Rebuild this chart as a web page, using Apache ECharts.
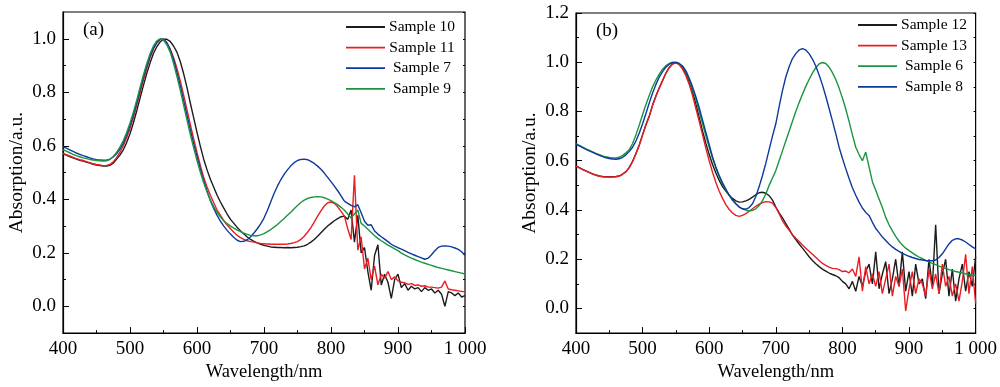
<!DOCTYPE html>
<html><head><meta charset="utf-8">
<script src="https://cdn.jsdelivr.net/npm/echarts@6/dist/echarts.min.js"></script>
<style>html,body{margin:0;padding:0;background:#fff}#c{width:1000px;height:387px}</style>
</head><body><div id="c"></div>
<script>
const wavelength = [400,405,410,415,420,425,430,435,440,445,450,455,460,465,470,475,480,485,490,495,500,505,510,515,520,525,530,535,540,545,550,555,560,565,570,575,580,585,590,595,600,605,610,615,620,625,630,635,640,645,650,655,660,665,670,675,680,685,690,695,700,705,710,715,720,725,730,735,740,745,750,755,760,765,770,775,780,785,790,795,800,805,810,815,820,825,830,835,840,845,850,855,860,865,870,875,880,885,890,895,900,905,910,915,920,925,930,935,940,945,950,955,960,965,970,975,980,985,990,995,1000];

const xTicks = [400,500,600,700,800,900,1000];
const yTicksA = [0.0,0.2,0.4,0.6,0.8,1.0];
const yTicksB = [0.0,0.2,0.4,0.6,0.8,1.0,1.2];
const yMinorA = [0.1,0.3,0.5,0.7,0.9];
const yMinorB = [0.1,0.3,0.5,0.7,0.9,1.1];

// Panel (a)
const sample10 = [
0.570,0.565,0.560,0.555,0.550,0.546,0.543,0.539,0.535,0.531,
0.528,0.526,0.524,0.524,0.527,0.535,0.550,0.565,0.585,0.612,
0.645,0.685,0.730,0.778,0.825,0.870,0.910,0.945,0.970,0.988,
0.998,0.998,0.990,0.973,0.950,0.915,0.870,0.818,0.760,0.705,
0.650,0.598,0.550,0.510,0.475,0.445,0.415,0.390,0.367,0.345,
0.325,0.310,0.295,0.282,0.270,0.259,0.250,0.243,0.237,0.232,
0.228,0.225,0.222,0.221,0.220,0.220,0.219,0.220,0.219,0.220,
0.221,0.223,0.226,0.232,0.240,0.250,0.262,0.275,0.288,0.300,
0.310,0.320,0.328,0.335,0.337,0.325,0.360,0.240,0.340,0.200,
0.220,0.130,0.060,0.190,0.230,0.080,0.120,0.090,0.030,0.100,
0.120,0.070,0.085,0.060,0.075,0.065,0.070,0.055,0.070,0.060,
0.065,0.050,0.060,0.045,0.000,0.055,0.050,0.040,0.050,0.035,
0.040];
const sample11 = [
0.572,0.567,0.562,0.557,0.552,0.548,0.545,0.541,0.537,0.533,
0.530,0.528,0.526,0.527,0.530,0.540,0.556,0.575,0.600,0.630,
0.665,0.705,0.750,0.797,0.845,0.890,0.930,0.962,0.985,0.998,
0.998,0.985,0.962,0.930,0.890,0.842,0.790,0.735,0.680,0.627,
0.575,0.527,0.482,0.446,0.415,0.387,0.360,0.340,0.320,0.304,
0.290,0.277,0.265,0.257,0.250,0.245,0.242,0.240,0.237,0.235,
0.234,0.233,0.232,0.232,0.232,0.232,0.232,0.233,0.235,0.238,
0.242,0.250,0.262,0.277,0.294,0.315,0.337,0.357,0.375,0.387,
0.390,0.385,0.372,0.355,0.337,0.290,0.250,0.490,0.210,0.260,
0.140,0.180,0.100,0.150,0.080,0.120,0.105,0.130,0.100,0.110,
0.095,0.090,0.088,0.082,0.085,0.078,0.080,0.075,0.077,0.072,
0.072,0.070,0.068,0.072,0.095,0.065,0.062,0.060,0.058,0.056,
0.054];
const sample7 = [
0.597,0.591,0.585,0.579,0.573,0.568,0.563,0.559,0.555,0.551,
0.548,0.547,0.546,0.546,0.550,0.558,0.570,0.587,0.610,0.640,
0.675,0.715,0.760,0.808,0.855,0.897,0.935,0.965,0.985,0.997,
0.998,0.985,0.960,0.922,0.875,0.825,0.770,0.715,0.660,0.608,
0.560,0.513,0.470,0.431,0.395,0.366,0.340,0.318,0.300,0.284,
0.270,0.257,0.247,0.242,0.243,0.249,0.260,0.274,0.290,0.308,
0.330,0.358,0.390,0.422,0.449,0.473,0.493,0.510,0.525,0.537,
0.545,0.549,0.550,0.548,0.542,0.534,0.524,0.512,0.498,0.482,
0.466,0.449,0.432,0.413,0.393,0.385,0.377,0.372,0.380,0.350,
0.318,0.303,0.305,0.282,0.270,0.260,0.251,0.242,0.232,0.225,
0.219,0.214,0.208,0.202,0.196,0.191,0.186,0.181,0.176,0.180,
0.193,0.208,0.220,0.225,0.226,0.225,0.222,0.218,0.213,0.204,
0.190];
const sample9 = [
0.586,0.580,0.574,0.568,0.563,0.559,0.555,0.552,0.549,0.547,
0.545,0.544,0.543,0.544,0.549,0.560,0.575,0.595,0.620,0.650,
0.685,0.725,0.770,0.818,0.865,0.907,0.945,0.973,0.992,1.000,
0.995,0.977,0.950,0.908,0.860,0.808,0.752,0.697,0.643,0.592,
0.545,0.501,0.462,0.427,0.397,0.372,0.351,0.334,0.320,0.309,
0.300,0.292,0.285,0.279,0.273,0.269,0.265,0.264,0.264,0.267,
0.272,0.279,0.287,0.296,0.306,0.317,0.328,0.340,0.352,0.365,
0.377,0.388,0.397,0.403,0.407,0.409,0.410,0.409,0.406,0.401,
0.395,0.388,0.380,0.370,0.359,0.345,0.330,0.345,0.360,0.310,
0.300,0.288,0.276,0.264,0.254,0.245,0.237,0.229,0.222,0.215,
0.208,0.199,0.192,0.186,0.180,0.175,0.170,0.165,0.161,0.157,
0.153,0.149,0.145,0.142,0.139,0.136,0.133,0.130,0.127,0.124,
0.121];

// Panel (b)
const sample12 = [
0.579,0.572,0.565,0.559,0.553,0.547,0.542,0.538,0.536,0.535,
0.535,0.535,0.536,0.538,0.546,0.556,0.573,0.598,0.629,0.664,
0.706,0.746,0.782,0.826,0.863,0.896,0.926,0.956,0.979,0.994,
0.998,0.992,0.977,0.952,0.920,0.880,0.830,0.775,0.720,0.670,
0.625,0.585,0.550,0.520,0.495,0.477,0.460,0.447,0.437,0.432,
0.433,0.437,0.443,0.452,0.462,0.470,0.472,0.468,0.458,0.440,
0.412,0.388,0.368,0.345,0.322,0.298,0.280,0.262,0.245,0.228,
0.210,0.195,0.182,0.170,0.160,0.152,0.144,0.138,0.133,0.125,
0.110,0.100,0.080,0.110,0.070,0.130,0.090,0.150,0.180,0.100,
0.230,0.080,0.140,0.190,0.060,0.120,0.200,0.090,0.230,0.070,
0.150,0.050,0.180,0.100,0.120,0.040,0.200,0.090,0.340,0.060,
0.140,0.200,0.050,0.160,0.030,0.120,0.180,0.070,0.150,0.090,
0.210];
const sample13 = [
0.578,0.571,0.564,0.558,0.552,0.546,0.541,0.537,0.535,0.534,
0.534,0.534,0.535,0.537,0.545,0.555,0.572,0.597,0.628,0.663,
0.705,0.745,0.780,0.825,0.862,0.895,0.925,0.955,0.978,0.993,
0.998,0.990,0.972,0.945,0.910,0.865,0.812,0.760,0.705,0.650,
0.600,0.553,0.512,0.476,0.447,0.422,0.402,0.388,0.378,0.374,
0.378,0.385,0.395,0.405,0.415,0.424,0.430,0.434,0.433,0.428,
0.410,0.385,0.356,0.335,0.318,0.300,0.285,0.272,0.258,0.245,
0.232,0.220,0.208,0.195,0.183,0.175,0.168,0.163,0.162,0.158,
0.150,0.152,0.145,0.160,0.130,0.210,0.070,0.170,0.100,0.140,
0.090,0.150,0.060,0.120,0.180,0.050,0.130,0.090,0.160,-0.010,
0.080,0.150,0.060,0.120,0.100,0.050,0.160,0.080,0.140,0.060,
0.180,0.090,0.130,0.050,0.100,0.030,0.110,0.220,0.060,0.170,
0.020];
const sample6 = [
0.668,0.662,0.655,0.648,0.642,0.636,0.630,0.625,0.620,0.616,
0.613,0.611,0.611,0.614,0.622,0.632,0.645,0.670,0.705,0.745,
0.788,0.828,0.865,0.900,0.928,0.952,0.972,0.986,0.995,1.000,
0.998,0.994,0.983,0.962,0.930,0.890,0.850,0.800,0.750,0.700,
0.655,0.610,0.570,0.535,0.505,0.480,0.460,0.440,0.425,0.413,
0.405,0.399,0.397,0.398,0.405,0.418,0.438,0.465,0.500,0.530,
0.560,0.600,0.640,0.680,0.720,0.760,0.800,0.836,0.870,0.902,
0.930,0.956,0.978,0.993,0.999,0.995,0.980,0.958,0.930,0.895,
0.855,0.810,0.760,0.705,0.655,0.625,0.600,0.635,0.575,0.515,
0.480,0.445,0.410,0.370,0.340,0.315,0.293,0.273,0.258,0.245,
0.235,0.226,0.217,0.209,0.202,0.195,0.189,0.183,0.178,0.172,
0.167,0.163,0.158,0.154,0.150,0.147,0.144,0.141,0.138,0.136,
0.134];
const sample8 = [
0.666,0.660,0.653,0.646,0.640,0.634,0.628,0.622,0.617,0.612,
0.609,0.607,0.606,0.608,0.614,0.624,0.638,0.655,0.680,0.713,
0.750,0.792,0.835,0.875,0.910,0.940,0.962,0.980,0.992,0.998,
1.000,0.995,0.985,0.965,0.935,0.900,0.860,0.815,0.765,0.715,
0.665,0.615,0.575,0.540,0.510,0.485,0.460,0.440,0.425,0.412,
0.405,0.403,0.410,0.425,0.455,0.495,0.540,0.590,0.645,0.700,
0.750,0.820,0.885,0.940,0.982,1.015,1.035,1.050,1.055,1.050,
1.035,1.013,0.985,0.948,0.908,0.862,0.812,0.762,0.710,0.655,
0.610,0.568,0.528,0.490,0.460,0.432,0.408,0.390,0.378,0.350,
0.325,0.308,0.290,0.276,0.262,0.250,0.240,0.232,0.224,0.218,
0.212,0.207,0.203,0.199,0.197,0.195,0.194,0.194,0.197,0.207,
0.222,0.242,0.262,0.277,0.283,0.283,0.278,0.270,0.260,0.250,
0.242];

const namesA = ['Sample 10','Sample 11','Sample 7','Sample 9'];
const namesB = ['Sample 12','Sample 13','Sample 6','Sample 8'];
const colors = {black:'#1c1c1c', red:'#ec1c24', blue:'#0c3a9c', green:'#1b9442'};

const FONT = '"Liberation Serif","Times New Roman",serif';

function xAxis(g){
  return {type:'value', gridIndex:g, min:400, max:1000, interval:100,
    axisLine:{show:true, onZero:false, lineStyle:{color:'#000', width:1.2}},
    axisTick:{show:true, inside:true, length:6, lineStyle:{color:'#000', width:1}},
    minorTick:{show:true, splitNumber:2, length:3, lineStyle:{color:'#000', width:1}},
    splitLine:{show:false},
    axisLabel:{color:'#000', fontFamily:FONT, fontSize:19, margin:6,
      formatter: v => v === 1000 ? '1 000' : String(v)},
    name:'Wavelength/nm', nameLocation:'middle', nameGap:27,
    nameTextStyle:{color:'#000', fontFamily:FONT, fontSize:18.5}};
}
function yMain(g, max, ticks){
  return {type:'value', gridIndex:g, min:-0.1, max:max, position:'left',
    axisLine:{show:true, onZero:false, lineStyle:{color:'#000', width:1.2}},
    axisTick:{show:true, inside:true, length:6, customValues:ticks, lineStyle:{color:'#000', width:1}},
    axisLabel:{color:'#000', fontFamily:FONT, fontSize:19, margin:7, customValues:ticks,
      formatter: v => Number(v).toFixed(1)},
    splitLine:{show:false},
    name:'Absorption/a.u.', nameLocation:'middle', nameGap:36, nameRotate:90,
    nameTextStyle:{color:'#000', fontFamily:FONT, fontSize:19.5}};
}
function yMinor(g, max, ticks){
  return {type:'value', gridIndex:g, min:-0.1, max:max, position:'left', offset:0,
    axisLine:{show:false, onZero:false}, axisLabel:{show:false}, splitLine:{show:false},
    axisTick:{show:true, inside:true, length:3, customValues:ticks, lineStyle:{color:'#000', width:1}}};
}
function yRight(g, max, ticks){
  return {type:'value', gridIndex:g, min:-0.1, max:max, position:'right', offset:0,
    axisLine:{show:false, onZero:false}, axisLabel:{show:false}, splitLine:{show:false},
    axisTick:{show:true, inside:true, length:2, customValues:ticks, lineStyle:{color:'#000', width:1}}};
}
function series(name, arr, color, g){
  return {name:name, type:'line', xAxisIndex:g, yAxisIndex:g*3,
    data: wavelength.map((w,i) => [w, arr[i]]),
    symbol:'none', showSymbol:false, lineStyle:{color:color, width:1.4}, itemStyle:{color:color},
    emphasis:{disabled:true}};
}
function legend(names, left, top){
  return {data:names.map(n => ({name:n, icon:'rect'})), orient:'vertical', left:left, top:top,
    itemWidth:39, itemHeight:1.8, itemGap:4.6,
    padding:0, selectedMode:false,
    formatter: n => '{c|' + n + '}',
    textStyle:{color:'#000', fontFamily:FONT, fontSize:15.5, lineHeight:16,
      rich:{c:{width:64, align:'center', color:'#000', fontFamily:FONT, fontSize:15.5, lineHeight:16}}}};
}

const allA = [-0.1,0,0.1,0.2,0.3,0.4,0.5,0.6,0.7,0.8,0.9,1.0,1.1];
const allB = [-0.1,0,0.1,0.2,0.3,0.4,0.5,0.6,0.7,0.8,0.9,1.0,1.1,1.2];

const chart = echarts.init(document.getElementById('c'), null, {renderer:'canvas'});
chart.setOption({
  animation:false,
  backgroundColor:'#fff',
  grid:[
    {left:63, top:12, width:402, height:322, show:true, borderColor:'#000', borderWidth:1.2, backgroundColor:'transparent'},
    {left:576, top:13, width:402, height:321, show:true, borderColor:'#000', borderWidth:1.2, backgroundColor:'transparent'}
  ],
  xAxis:[xAxis(0), xAxis(1)],
  yAxis:[yMain(0,1.1,yTicksA), yMinor(0,1.1,yMinorA), yRight(0,1.1,allA),
         yMain(1,1.2,yTicksB), yMinor(1,1.2,yMinorB), yRight(1,1.2,allB)],
  legend:[legend(namesA, 346, 19), legend(namesB, 858, 17)],
  graphic:[
    {type:'text', left:83, top:21, style:{text:'(a)', font:'19px ' + FONT, fill:'#000'}},
    {type:'text', left:596, top:22, style:{text:'(b)', font:'19px ' + FONT, fill:'#000'}}
  ],
  series:[
    series(namesA[0], sample10, colors.black, 0),
    series(namesA[1], sample11, colors.red, 0),
    series(namesA[2], sample7, colors.blue, 0),
    series(namesA[3], sample9, colors.green, 0),
    series(namesB[0], sample12, colors.black, 1),
    series(namesB[1], sample13, colors.red, 1),
    series(namesB[2], sample6, colors.green, 1),
    series(namesB[3], sample8, colors.blue, 1)
  ]
});
</script>
</body></html>
